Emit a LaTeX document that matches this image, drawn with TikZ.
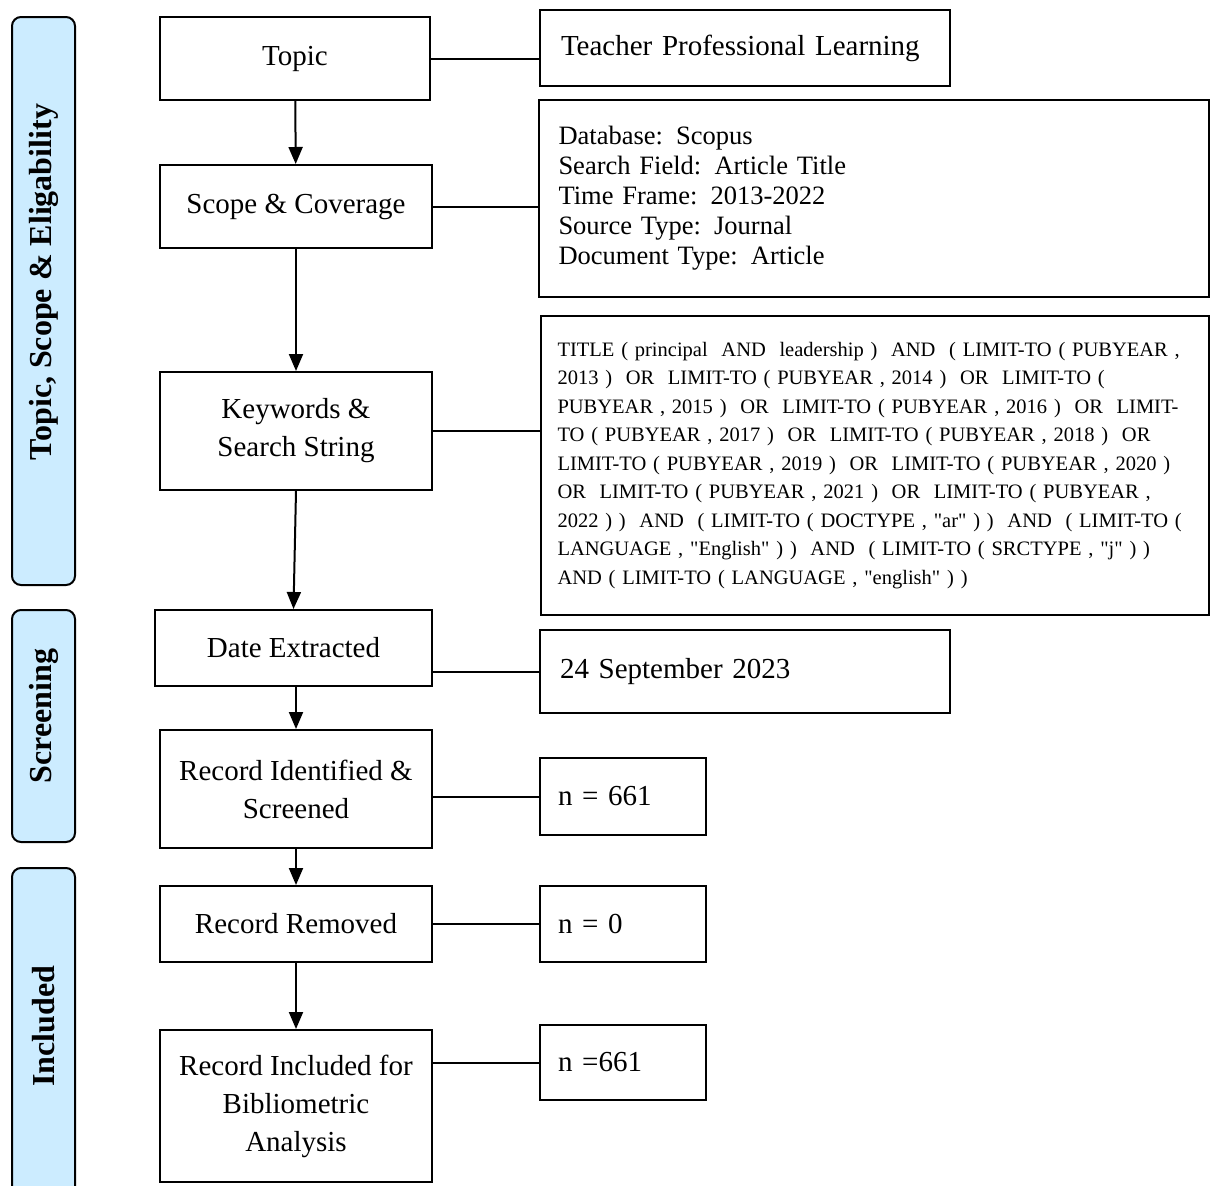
\documentclass[tikz,border=0pt]{standalone}
\usepackage{fontspec}
\setmainfont{Liberation Serif}
\usetikzlibrary{arrows.meta}
\definecolor{barblue}{RGB}{204,236,255}

\begin{document}
\begin{tikzpicture}[x=1pt,y=-1pt,
  box/.style={draw,line width=2pt,inner sep=0pt,align=center,
    font=\fontsize{29}{38}\selectfont},
  infobox/.style={draw,line width=2pt,inner ysep=0pt,align=left,
    font=\fontsize{29}{38}\selectfont},
  bar/.style={draw,line width=2pt,fill=barblue,rounded corners=9pt,
    minimum width=63pt,inner sep=0pt},
  barlabel/.style={rotate=90,inner sep=0pt,font=\bfseries\fontsize{32}{36}\selectfont},
  link/.style={line width=2pt},
  flow/.style={line width=2pt,-{Triangle[length=17pt,width=14pt]}}]
  \useasboundingbox (0,0) rectangle (1211,1186);

  \node[bar,minimum height=568pt] (tsbar) at (43.5,301) {};
  \node[bar,minimum height=232pt] (scrbar) at (43.5,726) {};
  \node[bar,minimum height=330pt] (incbar) at (43.5,1033) {};
  \node[barlabel] (tslabel) at (43.5,282) {Topic, Scope \& Eligability};
  \node[barlabel] (scrlabel) at (43.5,716) {Screening};
  \node[barlabel] (inclabel) at (43.5,1026) {Included};

  \node[box,minimum width=270pt,minimum height=83pt] (topic) at (295,58.5) {Topic};
  \node[box,minimum width=272pt,minimum height=83pt] (scope) at (296,206.5) {Scope \& Coverage};
  \node[box,minimum width=272pt,minimum height=118pt] (keys) at (296,431) {Keywords \&\\Search String};
  \node[box,minimum width=277pt,minimum height=76pt] (date) at (293.5,648) {Date Extracted};
  \node[box,minimum width=272pt,minimum height=118pt] (ident) at (296,789) {Record Identified \&\\Screened};
  \node[box,minimum width=272pt,minimum height=76pt] (removed) at (296,924) {Record Removed};
  \node[box,minimum width=272pt,minimum height=152pt] (included) at (296,1106) {Record Included for\\Bibliometric\\Analysis};

  \node[infobox,inner xsep=21pt,text width=368pt,minimum height=76pt] (topicval) at (745,48) {Teacher Professional Learning};
  \node[infobox,inner xsep=20pt,text width=630pt,minimum height=197pt,
    font=\fontsize{26.5}{30}\selectfont] (scopeval) at (873.5,198.5)
    {Database: Scopus\\Search Field: Article Title\\Time Frame: 2013-2022\\Source Type: Journal\\Document Type: Article};
  \node[infobox,inner xsep=17pt,text width=634pt,minimum height=299pt,
    font=\fontsize{20.5}{28.5}\selectfont] (keysval) at (874.5,465.5)
    {TITLE ( principal~~AND~~leadership ) ~AND ~( LIMIT-TO ( PUBYEAR ,\\
     2013 ) ~OR ~LIMIT-TO ( PUBYEAR , 2014 ) ~OR ~LIMIT-TO (\\
     PUBYEAR , 2015 ) ~OR ~LIMIT-TO ( PUBYEAR , 2016 ) ~OR ~LIMIT-\\
     TO ( PUBYEAR , 2017 ) ~OR ~LIMIT-TO ( PUBYEAR , 2018 ) ~OR\\
     LIMIT-TO ( PUBYEAR , 2019 ) ~OR ~LIMIT-TO ( PUBYEAR , 2020 )\\
     OR ~LIMIT-TO ( PUBYEAR , 2021 ) ~OR ~LIMIT-TO ( PUBYEAR ,\\
     2022 ) ) ~AND ~( LIMIT-TO ( DOCTYPE , \textquotedbl ar\textquotedbl{} ) ) ~AND ~( LIMIT-TO (\\
     LANGUAGE , \textquotedbl English\textquotedbl{} ) ) ~AND ~( LIMIT-TO ( SRCTYPE , \textquotedbl j\textquotedbl{} ) )\\
     AND ( LIMIT-TO ( LANGUAGE , \textquotedbl english\textquotedbl{} ) )};
  \node[infobox,inner xsep=20pt,text width=370pt,minimum height=83pt] (dateval) at (745,671.5) {24 September 2023};
  \node[infobox,inner xsep=18pt,text width=130pt,minimum height=77pt] (identval) at (623,796.5) {n = 661};
  \node[infobox,inner xsep=18pt,text width=130pt,minimum height=76pt] (removedval) at (623,924) {n = 0};
  \node[infobox,inner xsep=18pt,text width=130pt,minimum height=75pt] (includedval) at (623,1062.5) {n =661};

  \draw[flow] (topic) -- (scope);
  \draw[flow] (scope) -- (keys);
  \draw[flow] (keys.south) -- (date.north);
  \draw[flow] (date.south -| ident.north) -- (ident.north);
  \draw[flow] (ident) -- (removed);
  \draw[flow] (removed) -- (included);

  \draw[link] (topic.east) -- (topic.east -| topicval.west);
  \draw[link] (scope.east) -- (scope.east -| scopeval.west);
  \draw[link] (keys.east) -- (keys.east -| keysval.west);
  \draw[link] (date.east |- dateval.west) -- (dateval.west);
  \draw[link] (ident.east |- identval.west) -- (identval.west);
  \draw[link] (removed.east |- removedval.west) -- (removedval.west);
  \draw[link] (included.east |- includedval.west) -- (includedval.west);
\end{tikzpicture}
\end{document}
